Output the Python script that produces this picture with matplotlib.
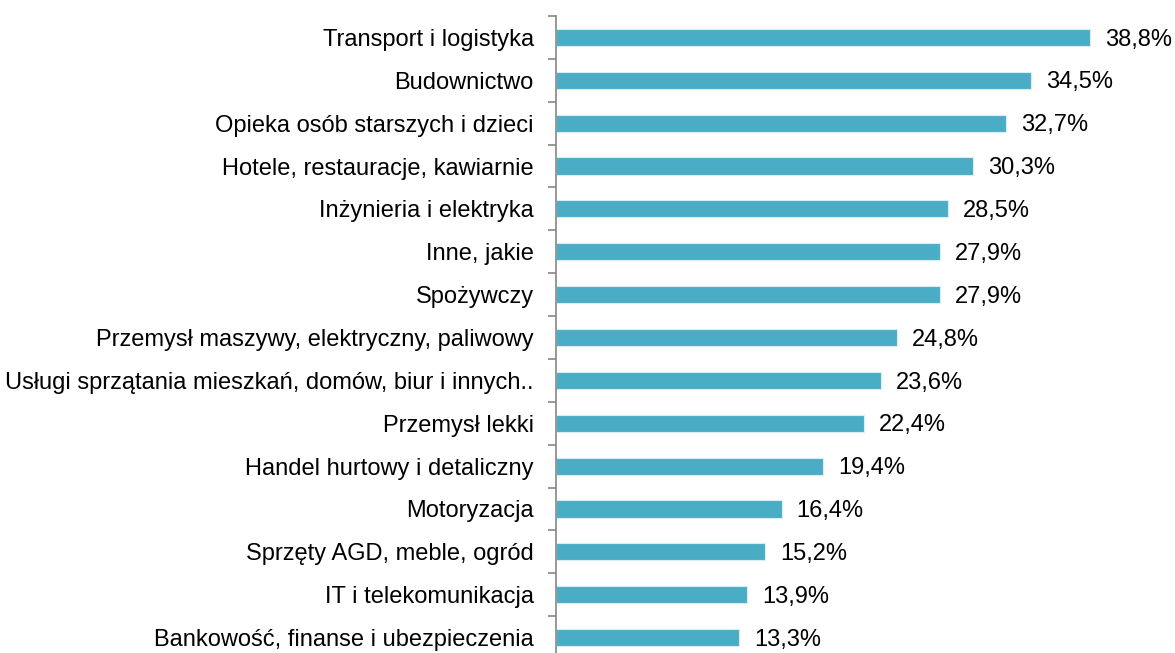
import matplotlib.pyplot as plt
import numpy as np

plt.rcParams['font.family'] = ['Liberation Sans', 'DejaVu Sans']

categories = ['Transport i logistyka', 'Budownictwo', 'Opieka osób starszych i dzieci',
              'Hotele, restauracje, kawiarnie', 'Inżynieria i elektryka', 'Inne, jakie',
              'Spożywczy', 'Przemysł maszywy, elektryczny, paliwowy',
              'Usługi sprzątania mieszkań, domów, biur i innych..', 'Przemysł lekki',
              'Handel hurtowy i detaliczny', 'Motoryzacja', 'Sprzęty AGD, meble, ogród',
              'IT i telekomunikacja', 'Bankowość, finanse i ubezpieczenia']
values = [38.8, 34.5, 32.7, 30.3, 28.5, 27.9, 27.9, 24.8, 23.6, 22.4, 19.4, 16.4, 15.2, 13.9, 13.3]

fig = plt.figure(figsize=(11.75, 6.53), dpi=100)
ax = fig.add_axes([0.4732, -0.0092, 0.5268, 0.9847])

y = np.arange(len(categories))
ax.barh(y, values, height=0.4, color='#4BACC6', edgecolor='#D6EEF4', linewidth=0.8)
ax.set_ylim(len(categories) - 0.5, -0.5)
ax.set_xlim(0, 45)

for yi, v in zip(y, values):
    ax.text(v + 1.1, yi + 0.05, f'{v:.1f}%'.replace('.', ','), va='center', ha='left', fontsize=17)

ax.set_yticks(y)
ax.set_yticklabels(categories, fontsize=17)
ax.tick_params(axis='y', which='major', length=0, pad=16)
ax.set_yticks(np.arange(-0.5, len(categories), 1), minor=True)
ax.tick_params(axis='y', which='minor', length=6, color='#868686', width=1.2)
ax.set_xticks([])
for s in ['top', 'right', 'bottom']:
    ax.spines[s].set_visible(False)
ax.spines['left'].set_color('#868686')
ax.spines['left'].set_linewidth(1.2)

fig.savefig('out.png', dpi=100)
